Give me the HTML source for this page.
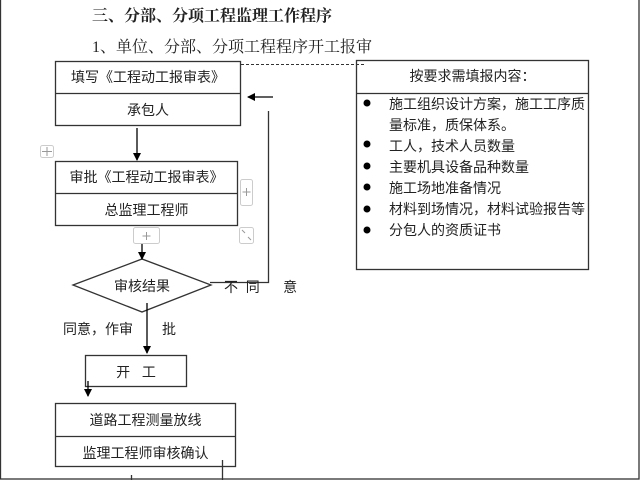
<!DOCTYPE html>
<html><head><meta charset="utf-8"><style>
body{margin:0;background:#fff;}
.t{position:absolute;font-family:"Liberation Sans","Noto Sans CJK SC",sans-serif;color:#222;white-space:nowrap;}
.s{font-family:"Liberation Serif","Noto Serif CJK SC",serif;}
</style></head><body>
<div style="position:relative;width:640px;height:480px;overflow:hidden;">
<svg width="640" height="480" style="position:absolute;left:0;top:0" xmlns="http://www.w3.org/2000/svg">
<defs><marker id="a" markerWidth="8" markerHeight="8" refX="7" refY="4" orient="auto" markerUnits="userSpaceOnUse"><path d="M0,0 L8,4 L0,8 Z" fill="#000"/></marker></defs>
<g fill="none" stroke="#333" stroke-width="1.3">
<rect x="0.5" y="-2" width="638.5" height="481"/>
<rect x="55.5" y="61.5" width="185" height="64"/><line x1="55" y1="93.5" x2="241" y2="93.5"/>
<rect x="55.5" y="161.5" width="182" height="64"/><line x1="55" y1="193.5" x2="238" y2="193.5"/>
<rect x="356.5" y="60.5" width="232" height="209"/><line x1="356" y1="93.5" x2="589" y2="93.5"/>
<line x1="241" y1="64.5" x2="366" y2="64.5" stroke-dasharray="3,2" stroke-width="1"/>
<polygon points="73,285 142,259 211,285 142,312"/>
<rect x="85.5" y="355.5" width="101" height="31"/>
<rect x="55.5" y="403.5" width="180" height="63"/><line x1="55" y1="436.5" x2="236" y2="436.5"/>
<polyline points="210,282.5 268.5,282.5 268.5,111"/>
<line x1="131.5" y1="475" x2="131.5" y2="480"/><line x1="222.5" y1="460" x2="222.5" y2="480"/>
</g>
<g stroke="#000" stroke-width="1.3">
<line x1="137" y1="128" x2="137" y2="160" marker-end="url(#a)"/>
<line x1="142" y1="243" x2="142" y2="259" marker-end="url(#a)"/>
<line x1="147" y1="303" x2="147" y2="353" marker-end="url(#a)"/>
<line x1="88" y1="381" x2="88" y2="396" marker-end="url(#a)"/>
<line x1="273" y1="97" x2="248" y2="97" marker-end="url(#a)"/>
</g>
<g fill="#fff" stroke="#ccc">
<rect x="40.5" y="145.5" width="13" height="12" rx="2"/>
<rect x="240.5" y="179.5" width="12" height="26" rx="2"/>
<rect x="133.5" y="227.5" width="26" height="16" rx="2"/>
<rect x="239.5" y="227.5" width="14" height="16" rx="2"/>
</g>
<g stroke="#999" stroke-width="1" fill="none">
<path d="M47,147v9M42,151.5h10"/><path d="M246.5,188v8M242.5,192h8"/><path d="M146.5,232v8M142.5,236h8"/><path d="M242,230l3,3M251,240l-3,-3"/>
</g>
<g fill="#000">
<circle cx="367" cy="103" r="3.5"/><circle cx="367" cy="144" r="3.5"/><circle cx="367" cy="166" r="3.5"/><circle cx="367" cy="187" r="3.5"/><circle cx="367" cy="209" r="3.5"/><circle cx="367" cy="230" r="3.5"/>
</g>
</svg>
<div class="t s" style="left:92px;top:3px;font-size:16px;font-weight:bold;">三、分部、分项工程监理工作程序</div>
<div class="t s" style="left:92px;top:34px;font-size:16px;">1、单位、分部、分项工程程序开工报审</div>
<div class="t" style="left:55px;width:186px;top:67px;font-size:14px;text-align:center;">填写《工程动工报审表》</div>
<div class="t" style="left:55px;width:186px;top:100px;font-size:14px;text-align:center;">承包人</div>
<div class="t" style="left:55px;width:183px;top:167px;font-size:14px;text-align:center;">审批《工程动工报审表》</div>
<div class="t" style="left:55px;width:183px;top:200px;font-size:14px;text-align:center;">总监理工程师</div>
<div class="t" style="left:356px;width:233px;top:66px;font-size:14px;text-align:center;">按要求需填报内容：</div>
<div class="t" style="left:389px;top:94px;font-size:14px;line-height:21px;">施工组织设计方案，施工工序质<br>量标准，质保体系。<br>工人，技术人员数量<br>主要机具设备品种数量<br>施工场地准备情况<br>材料到场情况，材料试验报告等<br>分包人的资质证书</div>
<div class="t" style="left:73px;width:138px;top:276px;font-size:14px;text-align:center;">审核结果</div>
<div class="t" style="left:224px;top:277px;font-size:14px;">不&nbsp;&nbsp;同&nbsp;&nbsp;&nbsp;&nbsp;&nbsp;&nbsp;意</div>
<div class="t" style="left:63px;top:319px;font-size:14px;">同意，作审</div>
<div class="t" style="left:162px;top:319px;font-size:14px;">批</div>
<div class="t" style="left:85px;width:102px;top:362px;font-size:14px;text-align:center;">开&nbsp;&nbsp;&nbsp;工</div>
<div class="t" style="left:55px;width:181px;top:410px;font-size:14px;text-align:center;">道路工程测量放线</div>
<div class="t" style="left:55px;width:181px;top:443px;font-size:14px;text-align:center;">监理工程师审核确认</div>
</div>
</body></html>
